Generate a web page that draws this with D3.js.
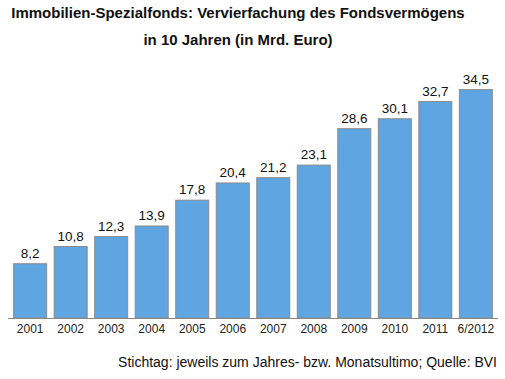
<!DOCTYPE html>
<html>
<head>
<meta charset="utf-8">
<script src="https://cdn.jsdelivr.net/npm/d3@7"></script>
<style>
  body { margin: 0; background: #fff; }
  text { font-family: "Liberation Sans", Arial, sans-serif; }
</style>
</head>
<body>
<div id="chart"></div>
<script>
// data
const years = ["2001", "2002", "2003", "2004", "2005", "2006", "2007", "2008", "2009", "2010", "2011", "6/2012"];
const values = [8.2, 10.8, 12.3, 13.9, 17.8, 20.4, 21.2, 23.1, 28.6, 30.1, 32.7, 34.5];
const titleLines = ["Immobilien-Spezialfonds: Vervierfachung des Fondsvermögens", "in 10 Jahren (in Mrd. Euro)"];
const footnote = "Stichtag: jeweils zum Jahres- bzw. Monatsultimo; Quelle: BVI";

const width = 505, height = 379;
const baseY = 318;

const svg = d3.select("#chart").append("svg")
  .attr("width", width)
  .attr("height", height);

const x = d3.scaleBand()
  .domain(years)
  .range([10, 496])
  .paddingInner(0.185)
  .paddingOuter(0.09);

const y = d3.scaleLinear()
  .domain([0, 36])
  .range([baseY, baseY - 36 * 6.62]);

const fmt = v => d3.format(".1f")(v).replace(".", ",");

// title
svg.selectAll("text.title")
  .data(titleLines)
  .join("text")
  .attr("class", "title")
  .attr("x", 238)
  .attr("y", (d, i) => 18 + i * 27)
  .attr("text-anchor", "middle")
  .style("font-size", "15px")
  .style("font-weight", "bold")
  .style("fill", "#111")
  .text(d => d);

// bars
svg.selectAll("rect.bar")
  .data(values)
  .join("rect")
  .attr("class", "bar")
  .attr("x", (d, i) => x(years[i]))
  .attr("y", d => y(d))
  .attr("width", x.bandwidth())
  .attr("height", d => baseY - y(d))
  .style("fill", "#5ea5e2")
  .style("stroke", "#8c8c8c")
  .style("stroke-width", 1);

// value labels
svg.selectAll("text.val")
  .data(values)
  .join("text")
  .attr("class", "val")
  .attr("x", (d, i) => x(years[i]) + x.bandwidth() / 2)
  .attr("y", d => y(d) - 6)
  .attr("text-anchor", "middle")
  .style("font-size", "13.5px")
  .style("fill", "#111")
  .text(d => fmt(d));

// x axis
const xAxis = svg.append("g")
  .attr("transform", `translate(0,${baseY})`)
  .call(d3.axisBottom(x).tickSize(0).tickPadding(6));
xAxis.select(".domain").attr("stroke", "#888").attr("d", "M8,0.5H498");
xAxis.selectAll("text")
  .style("font-family", "'Liberation Sans', Arial, sans-serif")
  .style("font-size", "12px")
  .style("fill", "#222");

// footnote
svg.append("text")
  .attr("x", 497)
  .attr("y", 367)
  .attr("text-anchor", "end")
  .style("font-size", "14px")
  .style("fill", "#111")
  .text(footnote);
</script>
</body>
</html>
